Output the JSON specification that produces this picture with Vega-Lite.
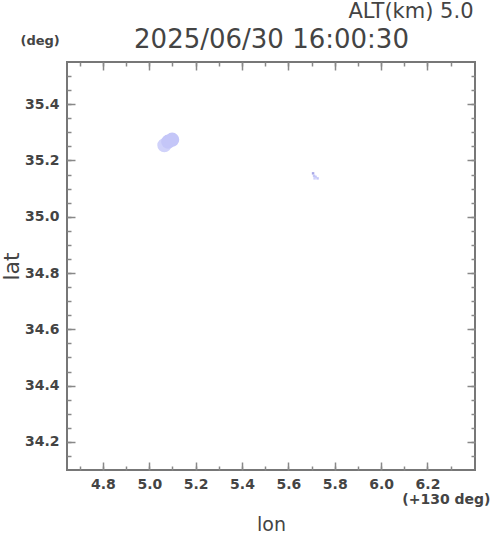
{
  "$schema": "https://vega.github.io/schema/vega-lite/v6.json",
  "width": 408,
  "height": 408,
  "autosize": {"type": "none"},
  "padding": {"left": 67, "top": 62, "right": 15, "bottom": 63},
  "background": "white",
  "config": {
    "view": {"stroke": "#777777", "strokeWidth": 2},
    "axis": {
      "domain": false,
      "grid": false,
      "labelFont": "DejaVu Sans",
      "labelFontWeight": "bold",
      "labelFontSize": 14,
      "labelColor": "#444444",
      "tickColor": "#888888",
      "tickWidth": 1.5,
      "titleFont": "DejaVu Sans",
      "titleFontWeight": "normal",
      "titleColor": "#444444"
    }
  },
  "datasets": {
    "blob": [
      {"lon": 5.0650, "lat": 35.2540, "intensity": 1},
      {"lon": 5.0815, "lat": 35.2668, "intensity": 2},
      {"lon": 5.0987, "lat": 35.2739, "intensity": 2}
    ],
    "speck": [
      {"lon": 5.7065, "lat": 35.1543, "intensity": 3},
      {"lon": 5.7108, "lat": 35.1454, "intensity": 2},
      {"lon": 5.7172, "lat": 35.1418, "intensity": 2},
      {"lon": 5.7129, "lat": 35.1364, "intensity": 1},
      {"lon": 5.7259, "lat": 35.1364, "intensity": 2}
    ]
  },
  "resolve": {
    "scale": {"x": "shared", "y": "shared", "color": "shared"},
    "axis": {"x": "independent", "y": "independent"}
  },
  "layer": [
    {
      "data": {"name": "blob"},
      "mark": {"type": "circle", "size": 200, "opacity": 1},
      "encoding": {
        "x": {
          "field": "lon", "type": "quantitative",
          "scale": {"domain": [4.645, 6.405], "nice": false, "zero": false},
          "axis": {
            "orient": "bottom",
            "values": [4.8, 5.0, 5.2, 5.4, 5.6, 5.8, 6.0, 6.2],
            "format": ".1f",
            "tickSize": -8,
            "labelPadding": 15,
            "title": "lon",
            "titleFontSize": 19,
            "titleX": 204,
            "titleY": 60,
            "titleAlign": "center",
            "titleBaseline": "alphabetic"
          }
        },
        "y": {
          "field": "lat", "type": "quantitative",
          "scale": {"domain": [34.10, 35.55], "nice": false, "zero": false},
          "axis": {
            "orient": "left",
            "values": [34.2, 34.4, 34.6, 34.8, 35.0, 35.2, 35.4],
            "format": ".1f",
            "tickSize": -8,
            "labelPadding": 16,
            "title": "lat",
            "titleFontSize": 22,
            "titleAngle": 270,
            "titleX": -49,
            "titleY": 204,
            "titleAlign": "center",
            "titleBaseline": "alphabetic"
          }
        },
        "color": {
          "field": "intensity", "type": "ordinal",
          "scale": {"domain": [1, 2, 3], "range": ["#d0d2fa", "#c4c6f8", "#a8a8e6"]},
          "legend": null
        }
      }
    },
    {
      "data": {"name": "speck"},
      "mark": {"type": "square", "size": 6, "opacity": 1},
      "encoding": {
        "x": {
          "field": "lon", "type": "quantitative",
          "axis": {
            "orient": "bottom",
            "values": [4.7, 4.8, 4.9, 5.0, 5.1, 5.2, 5.3, 5.4, 5.5, 5.6, 5.7, 5.8, 5.9, 6.0, 6.1, 6.2, 6.3],
            "labels": false,
            "tickSize": -4,
            "title": "(+130 deg)",
            "titleFontSize": 14,
            "titleFontWeight": "bold",
            "titleX": 423,
            "titleY": 33,
            "titleAlign": "right",
            "titleBaseline": "alphabetic"
          }
        },
        "y": {
          "field": "lat", "type": "quantitative",
          "axis": {
            "orient": "left",
            "values": [34.15, 34.2, 34.25, 34.3, 34.35, 34.4, 34.45, 34.5, 34.55, 34.6, 34.65, 34.7, 34.75, 34.8, 34.85, 34.9, 34.95, 35.0, 35.05, 35.1, 35.15, 35.2, 35.25, 35.3, 35.35, 35.4, 35.45, 35.5],
            "labels": false,
            "tickSize": -4,
            "title": "(deg)",
            "titleFontSize": 13,
            "titleFontWeight": "bold",
            "titleAngle": 0,
            "titleX": -47,
            "titleY": -18,
            "titleAlign": "left",
            "titleBaseline": "alphabetic"
          }
        },
        "color": {"field": "intensity", "type": "ordinal", "legend": null}
      }
    },
    {
      "data": {"name": "blob"},
      "mark": {"type": "point", "opacity": 0},
      "encoding": {
        "x": {
          "field": "lon", "type": "quantitative",
          "axis": {
            "orient": "top",
            "values": [4.8, 5.0, 5.2, 5.4, 5.6, 5.8, 6.0, 6.2],
            "labels": false,
            "tickSize": -8,
            "title": "2025/06/30 16:00:30",
            "titleFontSize": 26,
            "titleX": 204,
            "titleY": -15,
            "titleAlign": "center",
            "titleBaseline": "alphabetic"
          }
        },
        "y": {
          "field": "lat", "type": "quantitative",
          "axis": {
            "orient": "right",
            "values": [34.2, 34.4, 34.6, 34.8, 35.0, 35.2, 35.4],
            "labels": false,
            "tickSize": -8,
            "title": null
          }
        }
      }
    },
    {
      "data": {"name": "speck"},
      "mark": {"type": "point", "opacity": 0},
      "encoding": {
        "x": {
          "field": "lon", "type": "quantitative",
          "axis": {
            "orient": "top",
            "values": [4.7, 4.8, 4.9, 5.0, 5.1, 5.2, 5.3, 5.4, 5.5, 5.6, 5.7, 5.8, 5.9, 6.0, 6.1, 6.2, 6.3],
            "labels": false,
            "tickSize": -4,
            "title": "ALT(km) 5.0",
            "titleFontSize": 21,
            "titleX": 406,
            "titleY": -45,
            "titleAlign": "right",
            "titleBaseline": "alphabetic"
          }
        },
        "y": {
          "field": "lat", "type": "quantitative",
          "axis": {
            "orient": "right",
            "values": [34.15, 34.2, 34.25, 34.3, 34.35, 34.4, 34.45, 34.5, 34.55, 34.6, 34.65, 34.7, 34.75, 34.8, 34.85, 34.9, 34.95, 35.0, 35.05, 35.1, 35.15, 35.2, 35.25, 35.3, 35.35, 35.4, 35.45, 35.5],
            "labels": false,
            "tickSize": -4,
            "title": null
          }
        }
      }
    }
  ]
}
